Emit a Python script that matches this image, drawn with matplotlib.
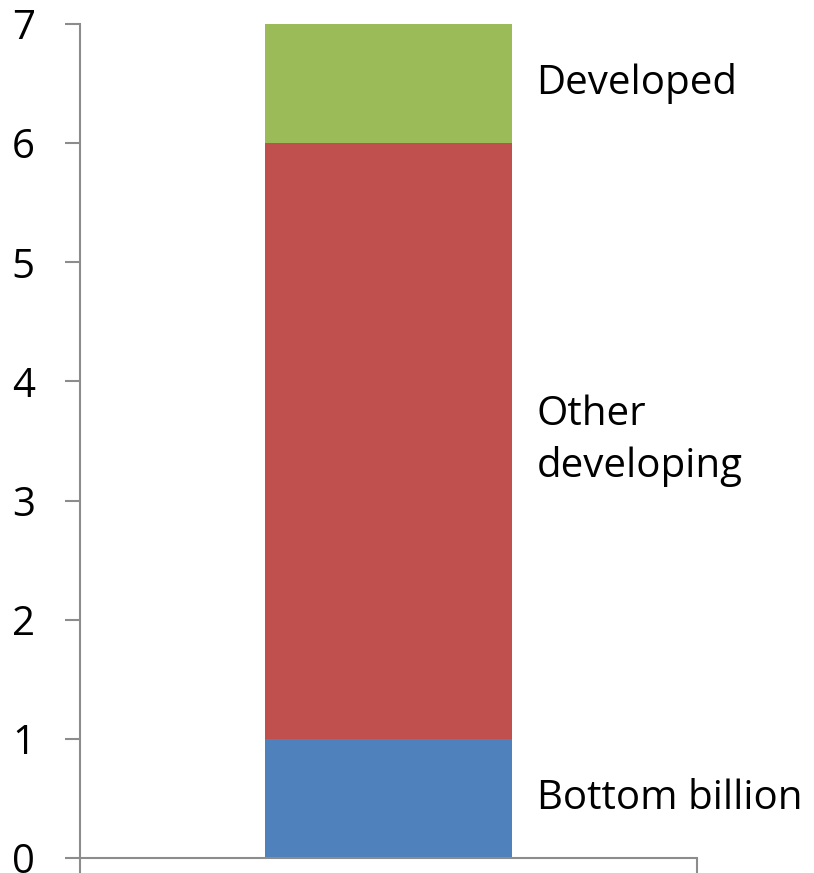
import matplotlib
matplotlib.use("Agg")
import matplotlib.pyplot as plt

# population by group, billions
groups = ["Bottom billion", "Other\ndeveloping", "Developed"]
values = [1, 5, 1]
colors = ["#4F81BD", "#C0504D", "#9BBB59"]
yticks = [0, 1, 2, 3, 4, 5, 6, 7]

plt.rcParams["font.family"] = ["Open Sans", "DejaVu Sans"]

fig = plt.figure(figsize=(8.14, 8.73), dpi=100)
ax = fig.add_axes([0.0983, 0.0172, 0.7580, 0.9553])

bottom = 0
for name, val, col in zip(groups, values, colors):
    ax.bar(0, val, width=0.4, bottom=bottom, color=col, linewidth=0)
    ax.text(0.24, bottom + val / 2, name, ha="left", va="center",
            fontsize=29, color="black", linespacing=1.35)
    bottom += val

ax.set_xlim(-0.5, 0.5)
ax.set_ylim(0, 7)
ax.set_yticks(yticks)
ax.set_xticks([-0.5, 0.5])
ax.set_xticklabels([])

axis_grey = "#8C8C8C"
for side in ["top", "right"]:
    ax.spines[side].set_visible(False)
for side in ["left", "bottom"]:
    ax.spines[side].set_color(axis_grey)
    ax.spines[side].set_linewidth(1.5)

ax.tick_params(axis="y", direction="out", length=10.5, width=1.5,
               color=axis_grey, labelsize=29, pad=22)
ax.tick_params(axis="x", direction="out", length=12, width=1.5,
               color=axis_grey)
for lbl in ax.get_yticklabels():
    lbl.set_horizontalalignment("right")

fig.savefig("out.png", dpi=100)
